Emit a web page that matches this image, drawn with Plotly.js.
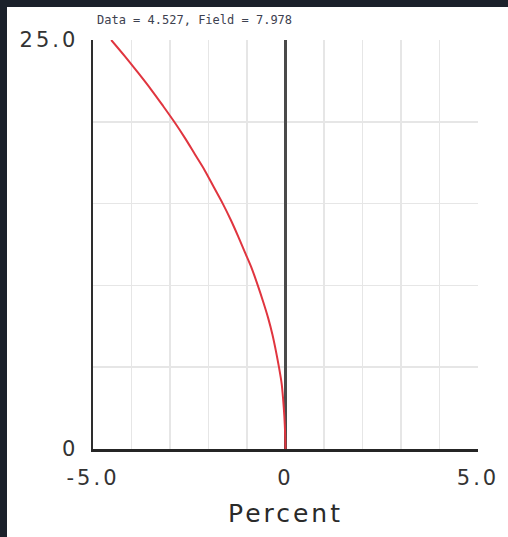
<!DOCTYPE html>
<html>
<head>
<meta charset="utf-8">
<script src="https://cdn.plot.ly/plotly-3.0.1.min.js"></script>
<style>
  html, body { margin: 0; padding: 0; background: #1b212b; width: 508px; height: 537px; overflow: hidden; }
  #chart { position: absolute; left: 7px; top: 7px; width: 501px; height: 530px; background: #ffffff; }
  .xtick text, .ytick text { letter-spacing: 3px; }
  .g-xtitle text { letter-spacing: 3px; }
</style>
</head>
<body>
<div id="chart"></div>
<script>
// Depth levels (y) and percent values (x)
var depth = [0, 1, 2, 3, 4, 5, 6, 7, 8, 9, 10, 11, 12, 13, 14, 15, 16, 17, 18, 19, 20, 21, 22, 23, 24, 25];
var percent = [0, -0.01, -0.03, -0.06, -0.10, -0.17, -0.25, -0.34, -0.45, -0.58, -0.72, -0.87, -1.05, -1.23, -1.42, -1.63, -1.86, -2.09, -2.35, -2.61, -2.89, -3.19, -3.50, -3.83, -4.17, -4.527];

var xTickVals = [-5, 0, 5];
var xTickText = ["-5.0", "0", "5.0"];
var yTickVals = [0, 25];
var yTickText = ["0", "25.0"];
var titleText = "Data = 4.527, Field = 7.978";
var xTitle = "Percent";

var trace = {
  x: percent,
  y: depth,
  type: "scatter",
  mode: "lines",
  line: { color: "#e0353f", width: 2, shape: "spline", smoothing: 1 },
  hoverinfo: "skip",
  showlegend: false
};

var gridColor = "#e6e6e6";

var layout = {
  width: 501,
  height: 530,
  paper_bgcolor: "#ffffff",
  plot_bgcolor: "#ffffff",
  margin: { l: 86, r: 30, t: 33, b: 88 },
  title: {
    text: titleText,
    font: { family: "DejaVu Sans Mono", size: 12, color: "#3d4150" },
    xref: "container", yref: "container",
    x: 90 / 501, xanchor: "left",
    y: 1 - 13 / 530, yanchor: "middle"
  },
  xaxis: {
    range: [-5, 5],
    tickmode: "array",
    tickvals: xTickVals,
    ticktext: xTickText,
    ticks: "",
    showgrid: true,
    gridcolor: gridColor,
    gridwidth: 1.5,
    minor: { dtick: 1, showgrid: true, gridcolor: gridColor, gridwidth: 1.5 },
    zeroline: true,
    zerolinecolor: "#4a4a4a",
    zerolinewidth: 2.5,
    showline: true,
    linecolor: "#252525",
    linewidth: 3,
    tickfont: { family: "DejaVu Sans", size: 21, color: "#333333" },
    ticklabelstandoff: 8,
    title: { text: xTitle, font: { family: "DejaVu Sans", size: 25, color: "#2a2a2a" }, standoff: 16 },
    fixedrange: true
  },
  yaxis: {
    range: [0, 25],
    tickmode: "array",
    tickvals: yTickVals,
    ticktext: yTickText,
    ticks: "",
    showgrid: true,
    gridcolor: gridColor,
    gridwidth: 1.5,
    minor: { dtick: 5, showgrid: true, gridcolor: gridColor, gridwidth: 1.5 },
    zeroline: false,
    showline: true,
    linecolor: "#2e2e2e",
    linewidth: 2.5,
    tickfont: { family: "DejaVu Sans", size: 21, color: "#333333" },
    ticklabelstandoff: 8,
    fixedrange: true
  }
};

Plotly.newPlot("chart", [trace], layout, { displayModeBar: false, staticPlot: true });
</script>
</body>
</html>
